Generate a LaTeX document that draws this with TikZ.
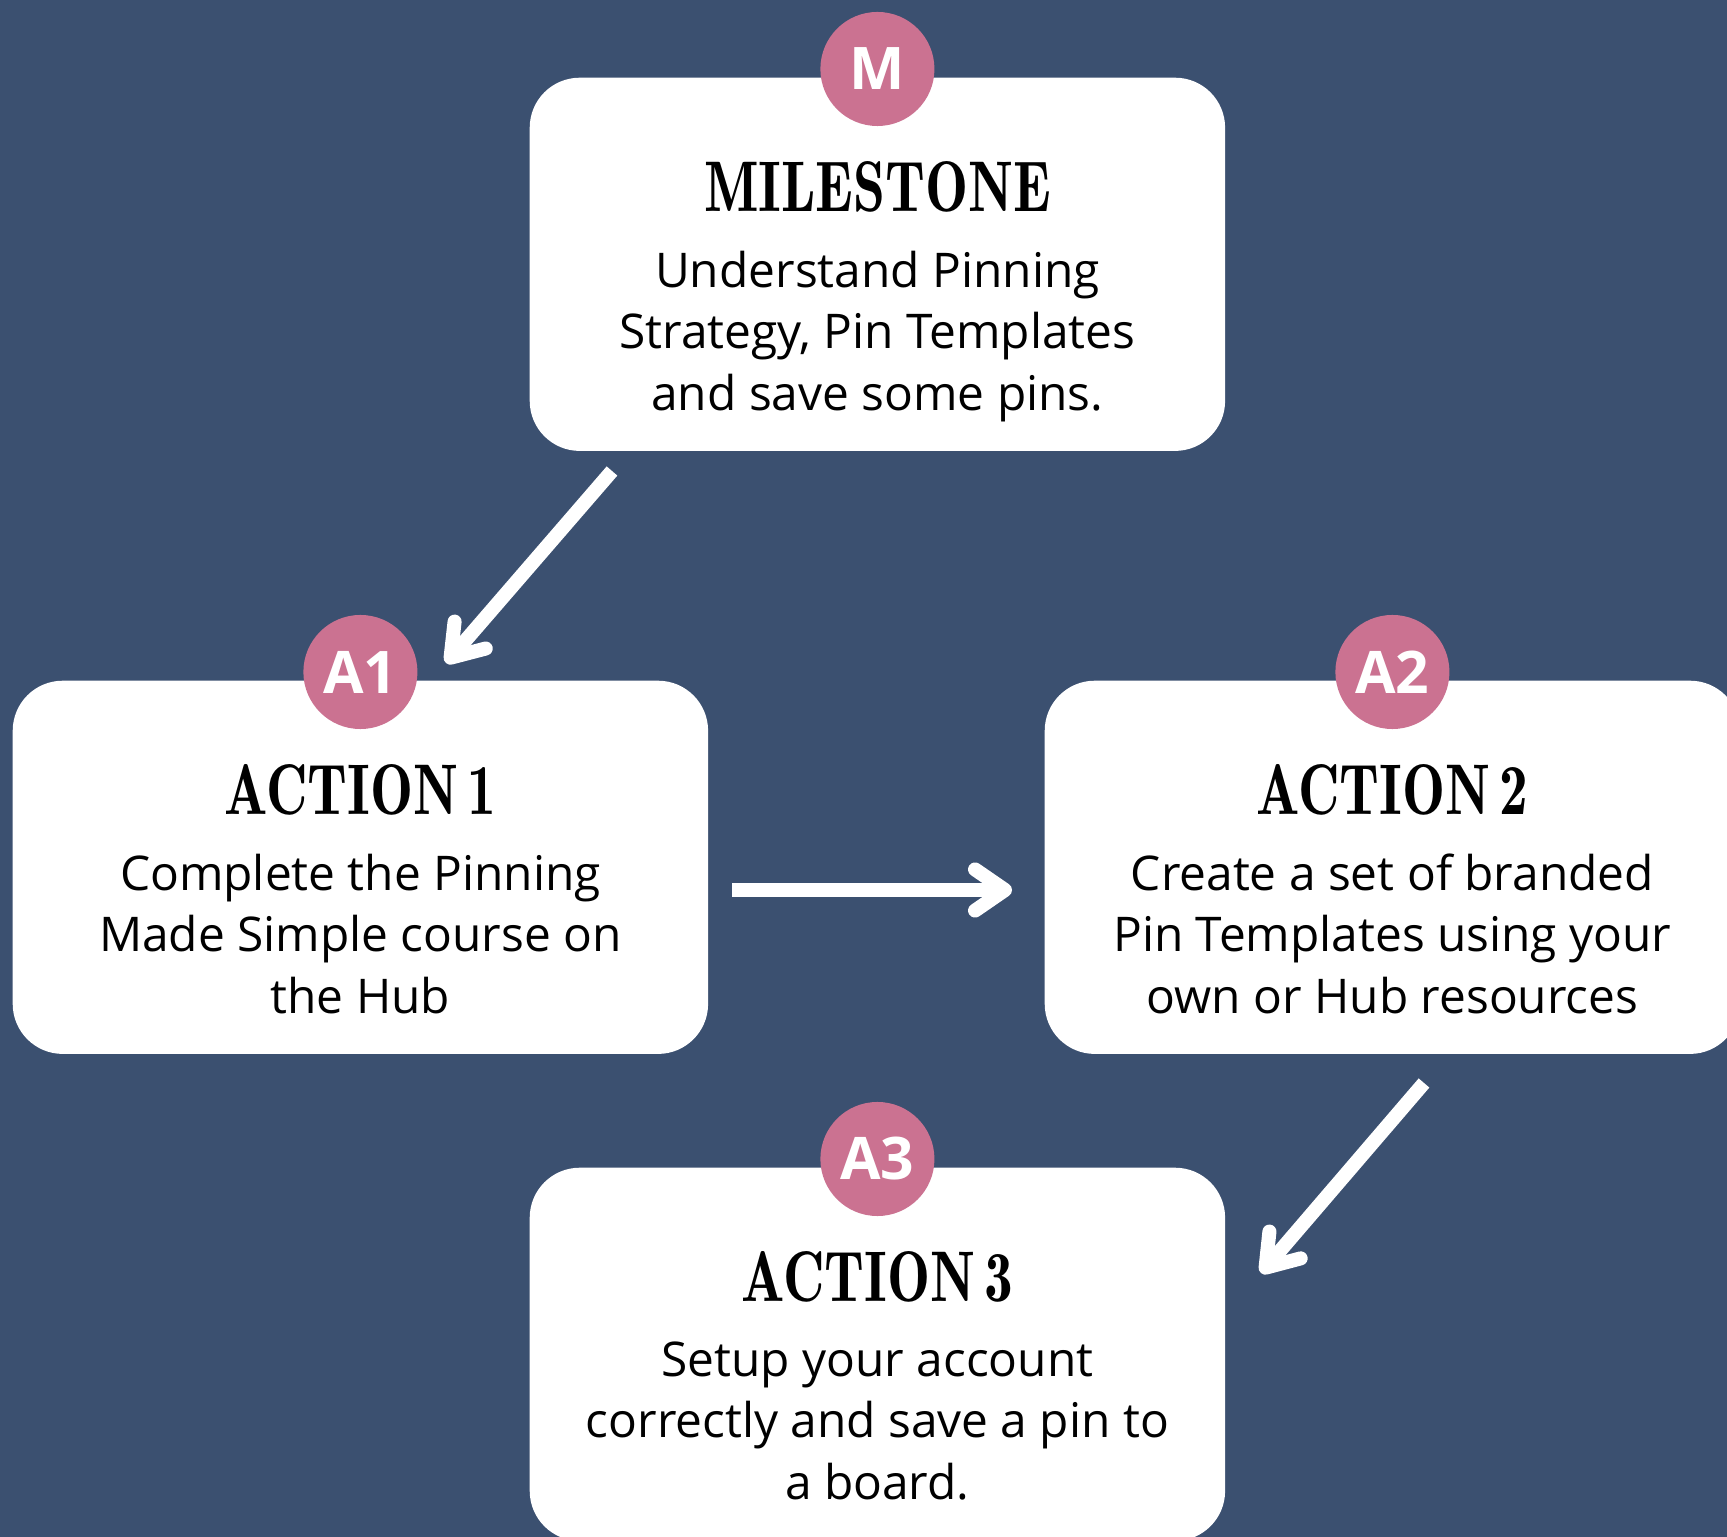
\documentclass[tikz,border=0pt]{standalone}
\usepackage{fontspec}
\newfontfamily\opensans{Open Sans}
\usetikzlibrary{arrows.meta,positioning}
\definecolor{navy}{RGB}{59,80,112}
\definecolor{rose}{RGB}{203,114,145}
\newcommand\hd[1]{\scalebox{0.8}[1]{#1}}
\begin{document}
\begin{tikzpicture}[x=0.01cm,y=-0.01cm, line join=round,
	card/.style={fill=white, rounded corners=0.5cm, minimum width=6.95cm, minimum height=3.73cm, anchor=north west, inner sep=0pt},
	badge/.style={circle, fill=rose, minimum size=1.14cm, inner sep=0pt, text=white, font=\opensans\bfseries\fontsize{16.7}{18}\selectfont},
	heading/.style={inner sep=0pt, font=\fontseries{b}\fontsize{20.4}{22}\selectfont},
	body/.style={inner sep=0pt, align=center, font=\opensans\fontsize{13.6}{17.5}\selectfont, execute at end node=\vphantom{p}},
	flow/.style={draw=white, line width=4pt, -{Straight Barb[length=8.5pt,width=11.7pt,round]}}]
	\clip (0,0) rectangle (1727,1537);
	\fill[navy] (0,0) rectangle (1727,1537);
	% cards
	\node[card] (ms) at (529,77) {};
	\node[card] (a1) at (12,680) {};
	\node[card] (a2) at (1044,680) {};
	\node[card] (a3) at (529,1167) {};
	% badges
	\node[badge] (msb) at ([yshift=0.08cm]ms.north) {M};
	\node[badge] (a1b) at ([yshift=0.08cm]a1.north) {A1};
	\node[badge] (a2b) at ([yshift=0.08cm]a2.north) {A2};
	\node[badge] (a3b) at ([yshift=0.08cm]a3.north) {A3};
	% texts
	\node[heading] (mst) at ([yshift=-1.10cm]ms.north) {\hd{MILESTONE}};
	\node[body] (msx) at ([yshift=-2.59cm]ms.north) {Understand Pinning\\Strategy, Pin Templates\\and save some pins.};
	\node[heading] (a1t) at ([yshift=-1.10cm]a1.north) {\hd{ACTION\,1}};
	\node[body] (a1x) at ([yshift=-2.59cm]a1.north) {Complete the Pinning\\Made Simple course on\\the Hub};
	\node[heading] (a2t) at ([yshift=-1.10cm]a2.north) {\hd{ACTION\,2}};
	\node[body] (a2x) at ([yshift=-2.59cm]a2.north) {Create a set of branded\\Pin Templates using your\\own or Hub resources};
	\node[heading] (a3t) at ([yshift=-1.10cm]a3.north) {\hd{ACTION\,3}};
	\node[body] (a3x) at ([yshift=-2.59cm]a3.north) {Setup your account\\correctly and save a pin to\\a board.};
	% arrows
	\coordinate (ms-out) at (612,471);
	\coordinate (a1-in) at (446,663);
	\coordinate (a1-out) at (732,890);
	\coordinate (a2-in) at (1012,890);
	\coordinate (a2-out) at (1424,1083);
	\coordinate (a3-in) at (1261,1273);
	\draw[flow] (ms-out)--(a1-in);
	\draw[flow] (a1-out)--(a2-in);
	\draw[flow] (a2-out)--(a3-in);
\end{tikzpicture}
\end{document}
